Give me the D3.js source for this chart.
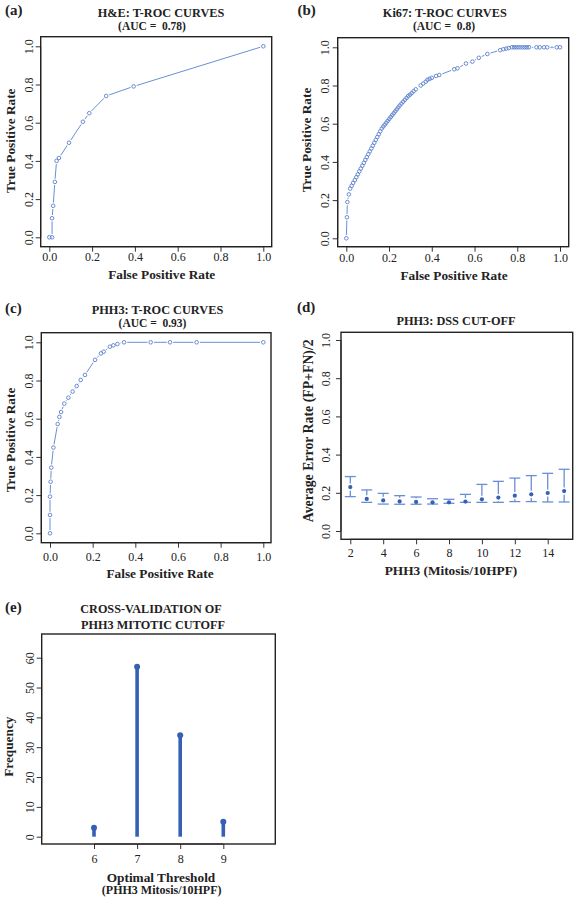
<!DOCTYPE html>
<html><head><meta charset="utf-8">
<script src="https://cdn.jsdelivr.net/npm/d3@7"></script>
<style>
body{margin:0;background:#fff}
svg{display:block}
text{font-family:"Liberation Serif","Times New Roman",serif;fill:#222}
</style>
</head><body>
<svg id="c" width="576" height="900"></svg>
<script>
// ---------- DATA ----------
const heFPR = [0, 0.013, 0.013, 0.018, 0.026, 0.034, 0.045, 0.092, 0.157, 0.187, 0.266, 0.394, 1];
const heTPR = [0, 0, 0.1, 0.165, 0.29, 0.40, 0.415, 0.495, 0.605, 0.65, 0.74, 0.79, 1];

const kiFPR = [0,0.003,0.005,0.012,0.018,0.025,0.032,0.040,0.047,0.054,0.061,0.068,0.075,0.082,0.089,0.096,
  0.103,0.110,0.117,0.124,0.131,0.138,0.145,0.152,0.159,0.166,0.173,0.180,0.187,0.194,0.201,0.208,0.215,
  0.222,0.229,0.236,0.243,0.250,0.258,0.266,0.274,0.282,0.290,0.298,0.306,0.315,0.325,0.348,0.360,0.372,
  0.380,0.390,0.400,0.420,0.435,0.505,0.520,0.560,0.590,0.620,0.660,0.720,0.735,0.748,0.760,0.775,0.785,
  0.795,0.805,0.815,0.825,0.835,0.845,0.855,0.890,0.905,0.925,0.940,0.985,1.000];
const kiTPR = [0,0.11,0.19,0.23,0.26,0.275,0.29,0.305,0.32,0.335,0.35,0.365,0.38,0.395,0.41,0.425,
  0.44,0.455,0.47,0.485,0.50,0.515,0.53,0.545,0.56,0.575,0.585,0.595,0.605,0.615,0.625,0.635,0.645,
  0.655,0.665,0.675,0.685,0.695,0.705,0.715,0.725,0.735,0.745,0.752,0.76,0.77,0.78,0.80,0.81,0.82,
  0.83,0.835,0.84,0.85,0.855,0.885,0.89,0.915,0.925,0.945,0.965,0.985,0.99,0.993,0.996,1,1,
  1,1,1,1,1,1,1,1,1,1,1,1,1];

const phFPR = [0,0,0,0.003,0.006,0.016,0.036,0.044,0.052,0.067,0.086,0.106,0.125,0.144,0.164,0.211,0.239,0.252,0.281,0.297,0.316,0.347,0.472,0.5625,0.6875,1];
const phTPR = [0,0.096,0.192,0.27,0.344,0.449,0.572,0.609,0.635,0.679,0.71,0.742,0.771,0.803,0.829,0.908,0.942,0.951,0.977,0.984,0.991,1,1,1,1,1];

const dssCut   = [2,3,4,5,6,7,8,9,10,11,12,13,14,15];
const dssMean  = [0.23,0.168,0.16,0.155,0.152,0.15,0.15,0.154,0.166,0.175,0.185,0.192,0.199,0.209];
const dssUpper = [0.285,0.215,0.197,0.185,0.178,0.169,0.166,0.192,0.244,0.26,0.277,0.29,0.302,0.323];
const dssLower = [0.18,0.15,0.141,0.14,0.14,0.141,0.145,0.15,0.15,0.15,0.154,0.154,0.152,0.152];

const cvThreshold = [6,7,8,9];
const cvFreq = [3,57,34,5];

const rateTicks = [0,0.2,0.4,0.6,0.8,1.0];
const cutTicks = [2,4,6,8,10,12,14];
const freqTicks = [0,10,20,30,40,50,60];

// ---------- DRAW ----------
const svg = d3.select("#c");
const LINE = "#6a8ed6", PT = "#5a80cc", DARK = "#3560b4";

function txt(x, y, s, size, weight, anchor, rot){
  const t = svg.append("text").attr("font-size", size).attr("font-weight", weight||"normal")
    .attr("text-anchor", anchor||"middle").style("white-space","pre").text(s);
  if (rot) t.attr("transform", `translate(${x},${y}) rotate(-90)`).attr("dy","0.35em");
  else t.attr("x", x).attr("y", y);
  return t;
}

function panel(c){
  const x = d3.scaleLinear().domain(c.xd).range(c.xr);
  const y = d3.scaleLinear().domain(c.yd).range(c.yr);
  const g = svg.append("g");
  // x axis
  const fx = c.xf || (d=>d);
  const ax = g.append("g").attr("transform", `translate(0,${c.box.b})`)
    .call(d3.axisBottom(x).tickValues(c.xt).tickSize(5).tickFormat(fx));
  ax.select(".domain").remove();
  ax.append("line").attr("x1", x(c.xt[0])).attr("x2", x(c.xt[c.xt.length-1]))
    .attr("stroke","#333").attr("stroke-width",1);
  ax.selectAll(".tick line").attr("stroke","#333");
  ax.selectAll(".tick text").attr("y", c.xtl - c.box.b).attr("dy","0.35em")
    .attr("font-size",12).attr("font-family","Liberation Serif").attr("fill","#333");
  // y axis
  const fy = c.yf || (d=>d);
  const ay = g.append("g").attr("transform", `translate(${c.box.l},0)`)
    .call(d3.axisLeft(y).tickValues(c.yt).tickSize(5).tickFormat(fy));
  ay.select(".domain").remove();
  ay.append("line").attr("y1", y(c.yt[0])).attr("y2", y(c.yt[c.yt.length-1]))
    .attr("stroke","#333").attr("stroke-width",1);
  ay.selectAll(".tick line").attr("stroke","#333");
  ay.selectAll(".tick text").attr("x",0).attr("y", -(c.box.l - c.ytl)).attr("dy","0.35em")
    .attr("transform","rotate(-90)").attr("text-anchor","middle")
    .attr("font-size",12).attr("font-family","Liberation Serif").attr("fill","#333");
  // box
  g.append("rect").attr("x", c.box.l).attr("y", c.box.t)
    .attr("width", c.box.r - c.box.l).attr("height", c.box.b - c.box.t)
    .attr("fill","none").attr("stroke","#222").attr("stroke-width",1.4);
  return {x, y, g};
}

function rocPanel(c, fpr, tpr){
  const p = panel(c);
  const pts = fpr.map((f,i)=>[p.x(f), p.y(tpr[i])]);
  const gap = 3.2;
  for (let i=1;i<pts.length;i++){
    const [x1,y1]=pts[i-1], [x2,y2]=pts[i];
    const L = Math.hypot(x2-x1,y2-y1);
    if (L <= 2*gap) continue;
    const ux=(x2-x1)/L, uy=(y2-y1)/L;
    p.g.append("line").attr("x1",x1+ux*gap).attr("y1",y1+uy*gap)
      .attr("x2",x2-ux*gap).attr("y2",y2-uy*gap)
      .attr("stroke",LINE).attr("stroke-width",1);
  }
  p.g.selectAll("circle.pt").data(fpr).join("circle").attr("class","pt")
    .attr("cx",(d)=>p.x(d)).attr("cy",(d,i)=>p.y(tpr[i])).attr("r",1.8)
    .attr("fill","none").attr("stroke",PT).attr("stroke-width",0.9);
}

const f1 = d3.format(".1f");

// (a)
rocPanel({box:{l:40.7,r:271.7,t:36.7,b:246.7}, xd:[0,1], xr:[49.3,263.3], yd:[0,1], yr:[237.3,46.3],
  xt:rateTicks, yt:rateTicks, xf:f1, yf:f1, xtl:256.7, ytl:28.3}, heFPR, heTPR);
txt(5, 15, "(a)", 15, "bold", "start");
txt(161, 16.7, "H&E: T-ROC CURVES", 12.3, "bold");
txt(152, 29.5, "(AUC =  0.78)", 11.5, "bold");
txt(161.7, 279.3, "False Positive Rate", 13.3, "bold");
txt(10, 140.8, "True Positive Rate", 13.3, "bold", "middle", true);

// (b)
rocPanel({box:{l:337.7,r:568.7,t:37.7,b:246.7}, xd:[0,1], xr:[346.3,560], yd:[0,1], yr:[238.3,47.3],
  xt:rateTicks, yt:rateTicks, xf:f1, yf:f1, xtl:258.3, ytl:324.3}, kiFPR, kiTPR);
txt(297.5, 15, "(b)", 15, "bold", "start");
txt(444.8, 17.3, "Ki67: T-ROC CURVES", 12.3, "bold");
txt(444, 29.5, "(AUC =  0.8)", 11.5, "bold");
txt(454, 280, "False Positive Rate", 13.3, "bold");
txt(306, 140, "True Positive Rate", 13.3, "bold", "middle", true);

// (c)
rocPanel({box:{l:41.3,r:271,t:332.7,b:542.7}, xd:[0,1], xr:[50,263.3], yd:[0,1], yr:[533.3,342.3],
  xt:rateTicks, yt:rateTicks, xf:f1, yf:f1, xtl:556.7, ytl:28.3}, phFPR, phTPR);
txt(5, 312.7, "(c)", 15, "bold", "start");
txt(157.5, 314, "PHH3: T-ROC CURVES", 12.3, "bold");
txt(152.5, 326.7, "(AUC =  0.93)", 11.5, "bold");
txt(160, 578.3, "False Positive Rate", 13.3, "bold");
txt(10, 440, "True Positive Rate", 13.3, "bold", "middle", true);

// (d)
(function(){
  const p = panel({box:{l:341,r:572.7,t:332.3,b:539.3}, xd:[2,14], xr:[350.3,547.7], yd:[0,1], yr:[531,340],
    xt:cutTicks, yt:rateTicks, yf:f1, xtl:552.7, ytl:326});
  const cap = 5.5, gap = 3.6;
  dssCut.forEach((k,i)=>{
    const cx = p.x(k), ym = p.y(dssMean[i]), yu = p.y(dssUpper[i]), yl = p.y(dssLower[i]);
    const st = (s)=>s.attr("stroke",LINE).attr("stroke-width",1.3);
    if (ym - yu > gap) st(p.g.append("line").attr("x1",cx).attr("x2",cx).attr("y1",yu).attr("y2",ym-gap));
    if (yl - ym > gap) st(p.g.append("line").attr("x1",cx).attr("x2",cx).attr("y1",ym+gap).attr("y2",yl));
    st(p.g.append("line").attr("x1",cx-cap).attr("x2",cx+cap).attr("y1",yu).attr("y2",yu));
    st(p.g.append("line").attr("x1",cx-cap).attr("x2",cx+cap).attr("y1",yl).attr("y2",yl));
  });
  p.g.selectAll("circle.m").data(dssCut).join("circle").attr("class","m")
    .attr("cx",d=>p.x(d)).attr("cy",(d,i)=>p.y(dssMean[i])).attr("r",2.1).attr("fill",DARK);
})();
txt(297, 312, "(d)", 15, "bold", "start");
txt(456, 325, "PHH3: DSS CUT-OFF", 12.3, "bold");
txt(451, 575, "PHH3 (Mitosis/10HPF)", 13.3, "bold");
txt(307.7, 430.8, "Average Error Rate (FP+FN)/2", 13.8, "bold", "middle", true);

// (e)
(function(){
  const p = panel({box:{l:41.7,r:275.3,t:634,b:844}, xd:[6,9], xr:[94,223.3], yd:[0,60], yr:[836.7,657.7],
    xt:cvThreshold, yt:freqTicks, xtl:858.3, ytl:30});
  p.g.selectAll("line.stem").data(cvThreshold).join("line").attr("class","stem")
    .attr("x1",d=>p.x(d)).attr("x2",d=>p.x(d)).attr("y1",p.y(0)).attr("y2",(d,i)=>p.y(cvFreq[i]))
    .attr("stroke",DARK).attr("stroke-width",3.6);
  p.g.selectAll("circle.h").data(cvThreshold).join("circle").attr("class","h")
    .attr("cx",d=>p.x(d)).attr("cy",(d,i)=>p.y(cvFreq[i])).attr("r",3).attr("fill",DARK);
})();
txt(5, 612, "(e)", 15, "bold", "start");
txt(151, 613.3, "CROSS-VALIDATION OF", 12.2, "bold");
txt(153, 628.5, "PHH3 MITOTIC CUTOFF", 12.2, "bold");
txt(161, 881.7, "Optimal Threshold", 13.3, "bold");
txt(161.7, 894, "(PHH3 Mitosis/10HPF)", 12, "bold");
txt(8.3, 746.7, "Frequency", 13.3, "bold", "middle", true);
</script>
</body></html>
